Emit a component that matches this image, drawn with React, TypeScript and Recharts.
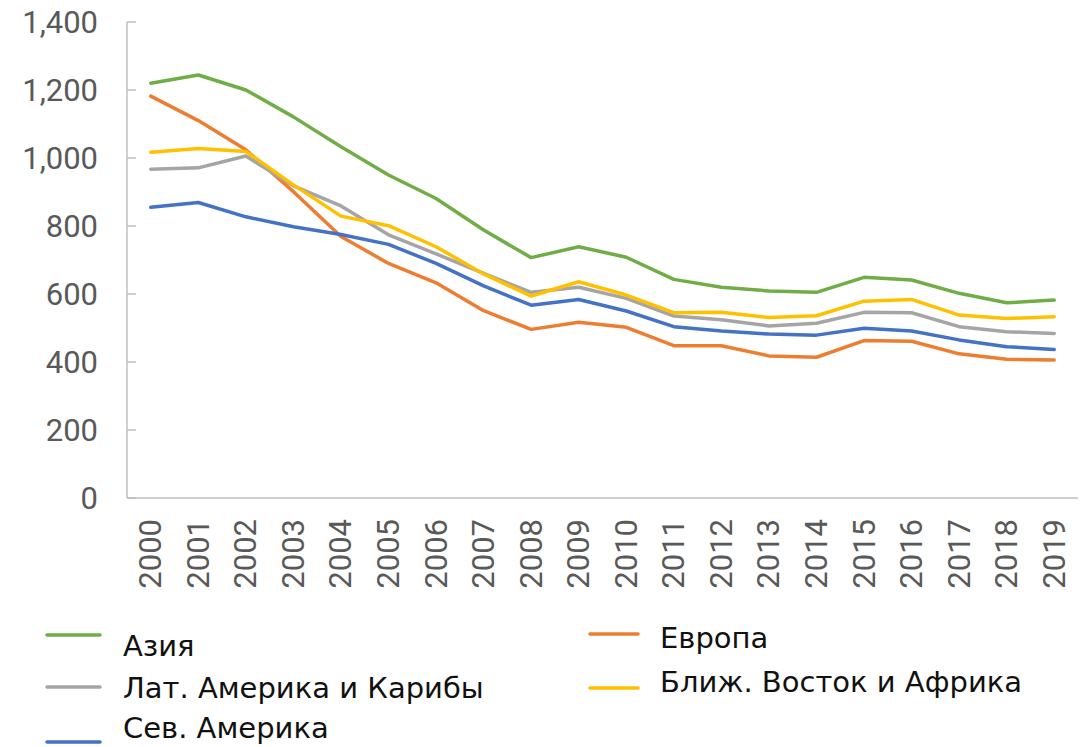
import { LineChart, Line, XAxis, YAxis, Legend } from 'recharts'

const years = [
  '2000', '2001', '2002', '2003', '2004', '2005', '2006', '2007', '2008', '2009',
  '2010', '2011', '2012', '2013', '2014', '2015', '2016', '2017', '2018', '2019',
]
const asia = [1220, 1244, 1200, 1121, 1033, 950, 881, 788, 707, 739, 708, 643, 620, 609, 605, 649, 641, 602, 574, 582]
const europe = [1182, 1110, 1024, 901, 769, 690, 633, 551, 496, 517, 502, 448, 448, 418, 414, 463, 461, 424, 408, 406]
const latAmerica = [967, 971, 1006, 918, 859, 774, 718, 661, 605, 620, 587, 535, 524, 506, 514, 546, 545, 504, 489, 484]
const middleEast = [1017, 1028, 1019, 921, 829, 801, 739, 659, 594, 636, 597, 545, 546, 531, 536, 579, 584, 538, 528, 533]
const northAmerica = [855, 869, 827, 798, 775, 746, 690, 624, 567, 584, 550, 504, 491, 482, 479, 499, 491, 465, 445, 437]
const yTicks = [0, 200, 400, 600, 800, 1000, 1200, 1400]

const series = [
  { key: 'asia', name: 'Азия', color: '#70AD47' },
  { key: 'europe', name: 'Европа', color: '#ED7D31' },
  { key: 'latAmerica', name: 'Лат. Америка и Карибы', color: '#A5A5A5' },
  { key: 'middleEast', name: 'Ближ. Восток и Африка', color: '#FFC000' },
  { key: 'northAmerica', name: 'Сев. Америка', color: '#4472C4' },
]

const data = years.map((year, i) => ({
  year,
  asia: asia[i],
  europe: europe[i],
  latAmerica: latAmerica[i],
  middleEast: middleEast[i],
  northAmerica: northAmerica[i],
}))

const edgeTicks = years.map((_, i) => i).concat(years.length)

const W = 1091
const H = 747
const AXIS = '#BFBFBF'
const LABEL = '#595959'
const TICK_FONT = 'Roboto, sans-serif'
const LEGEND_FONT = '"DejaVu Sans", "Noto Sans", sans-serif'

// legend is laid out like the Excel original: two columns, slightly uneven rows
const legendSlots = [
  { mx: 47, mw: 53, my: 27, tx: 123, ty: 48 },
  { mx: 590, mw: 48, my: 26, tx: 660, ty: 40 },
  { mx: 47, mw: 53, my: 79, tx: 123, ty: 90 },
  { mx: 590, mw: 48, my: 80, tx: 660, ty: 84 },
  { mx: 47, mw: 53, my: 134, tx: 123, ty: 130 },
]

function YTick(props: any) {
  const { x, y, payload } = props
  return (
    <g>
      <line x1={x} x2={x + 9} y1={y} y2={y} stroke={AXIS} strokeWidth={1.5} />
      <text
        x={x - 29}
        y={y}
        textAnchor="end"
        dominantBaseline="central"
        fontFamily={TICK_FONT}
        fontSize={31}
        fill={LABEL}
      >
        {Number(payload.value).toLocaleString('en-US')}
      </text>
    </g>
  )
}

function YearTick(props: any) {
  const { x, y, payload } = props
  const ty = y + 21
  return (
    <text
      x={x}
      y={ty}
      transform={`rotate(-90, ${x}, ${ty})`}
      textAnchor="end"
      dominantBaseline="central"
      fontFamily={TICK_FONT}
      fontSize={31}
      fill={LABEL}
    >
      {payload.value}
    </text>
  )
}

function EdgeTick(props: any) {
  const { x, y } = props
  return <line x1={x} x2={x} y1={y} y2={y - 9} stroke={AXIS} strokeWidth={1.5} />
}

function LegendBox() {
  return (
    <svg width={W} height={139} style={{ display: 'block' }}>
      {series.map((s, i) => {
        const p = legendSlots[i]
        return (
          <g key={s.key}>
            <line
              x1={p.mx}
              x2={p.mx + p.mw}
              y1={p.my}
              y2={p.my}
              stroke={s.color}
              strokeWidth={3.5}
              strokeLinecap="round"
            />
            <text x={p.tx} y={p.ty} fontFamily={LEGEND_FONT} fontSize={29} fill="#111">
              {s.name}
            </text>
          </g>
        )
      })}
    </svg>
  )
}

export default function App() {
  const plotWidth = W - 127 - 13
  return (
    <div style={{ position: 'absolute', left: 0, top: 0, width: W, height: H, background: '#fff' }}>
      <LineChart width={W} height={H} data={data} margin={{ top: 22, right: 13, bottom: 0, left: 0 }}>
        <XAxis
          xAxisId="edges"
          type="number"
          domain={[0, years.length]}
          ticks={edgeTicks}
          allowDataOverflow
          height={0}
          axisLine={false}
          tickLine={false}
          tickSize={0}
          tickMargin={0}
          tick={<EdgeTick />}
        />
        <XAxis
          dataKey="year"
          scale="point"
          padding={{ left: plotWidth / 40, right: plotWidth / 40 }}
          height={110}
          interval={0}
          axisLine={{ stroke: AXIS, strokeWidth: 1.5 }}
          tickLine={false}
          tickSize={0}
          tickMargin={0}
          tick={<YearTick />}
        />
        <YAxis
          width={127}
          domain={[0, 1400]}
          ticks={yTicks}
          interval={0}
          axisLine={{ stroke: AXIS, strokeWidth: 1.5 }}
          tickLine={false}
          tickSize={0}
          tickMargin={0}
          tick={<YTick />}
        />
        <Legend
          verticalAlign="bottom"
          height={139}
          content={<LegendBox />}
          wrapperStyle={{ left: 0, bottom: 0, width: W, height: 139 }}
        />
        {series.map((s) => (
          <Line
            key={s.key}
            dataKey={s.key}
            name={s.name}
            stroke={s.color}
            strokeWidth={3.5}
            strokeLinejoin="round"
            strokeLinecap="round"
            dot={false}
            activeDot={false}
            isAnimationActive={false}
          />
        ))}
      </LineChart>
    </div>
  )
}
